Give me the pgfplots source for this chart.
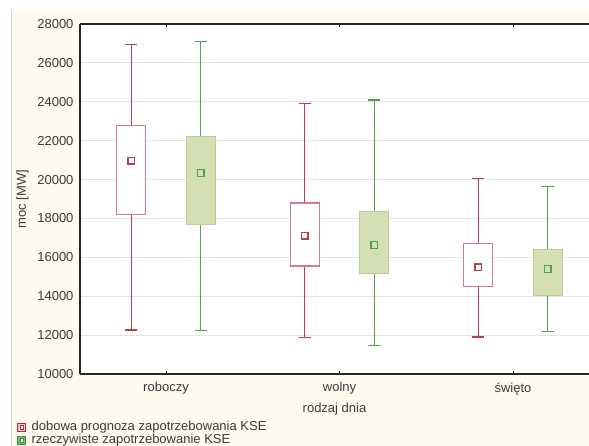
\documentclass[border=0pt]{standalone}
\usepackage{fontspec}
\setmainfont{Liberation Sans}
\usepackage{pgfplots}
\pgfplotsset{compat=1.18}
\usepgfplotslibrary{statistics}
\definecolor{cream}{HTML}{FEFAEE}
\definecolor{redwhisk}{HTML}{B5414F}
\definecolor{redbox}{HTML}{D17C88}
\definecolor{redmark}{HTML}{A8303C}
\definecolor{redfill}{HTML}{F2C6CC}
\definecolor{greenwhisk}{HTML}{4DA24D}
\definecolor{greenfill}{HTML}{D5DFB4}
\definecolor{greenline}{HTML}{BFCC98}
\definecolor{greenmark}{HTML}{3C963C}
\definecolor{gridc}{HTML}{E4E4E4}
\definecolor{txt}{HTML}{3A3A3A}
\pgfplotsset{
  rectleg/.style={legend image code/.code={\path[draw=none,fill=none] (0pt,0pt) -- (14pt,0pt); \draw[##1] (0pt,-4pt) rectangle (8pt,4pt); \draw[##1, fill=white, line width=0.6pt] (2.3pt,-1.7pt) rectangle (5.7pt,1.7pt);}},
  redbp/.style={forget plot, color=redwhisk, line width=1.3pt, mark=square, mark size=3.3pt,
    boxplot/every box/.style={draw=redbox, fill=white, line width=1.2pt},
    boxplot/every whisker/.style={draw=redwhisk, line width=1.3pt},
    boxplot/every median/.style={draw=none},
    boxplot/every average/.style={/tikz/mark=square, /tikz/mark size=3.3pt, color=redmark, line width=1.4pt, solid},
  },
  greenbp/.style={forget plot, color=greenwhisk, line width=1.3pt, mark=square, mark size=3.3pt,
    boxplot/every box/.style={draw=greenline, fill=greenfill, line width=1.0pt},
    boxplot/every whisker/.style={draw=greenwhisk, line width=1.3pt},
    boxplot/every median/.style={draw=none},
    boxplot/every average/.style={/tikz/mark=square, /tikz/mark size=3.3pt, color=greenmark, line width=1.4pt, solid},
  },
}
\begin{document}
\fontsize{13}{15}\selectfont
\begin{tikzpicture}
\fill[white] (0pt,0pt) rectangle (589pt,-446pt);
\fill[cream] (11pt,-10pt) rectangle (589pt,-446pt);
\draw[gray!35, line width=0.8pt] (11pt,-10pt) -- (11pt,-446pt);
\begin{axis}[
  at={(80pt,-374pt)}, anchor=south west,
  scale only axis, width=509pt, height=350pt,
  xmin=0.5043, xmax=3.438,
  ymin=10000, ymax=28000,
  axis x line*=box, axis y line*=left,
  axis line style={black!85, line width=1.4pt},
  axis background/.style={fill=white},
  xtick={1,2,3},
  xticklabels={roboczy,wolny,święto},
  ytick={10000,12000,...,28000},
  major tick length=3pt,
  xtick style={black, line width=1pt},
  ytick style={draw=none},
  ymajorgrids,
  grid style={gridc, line width=1.2pt},
  /pgf/number format/assume math mode=true,
  /pgf/number format/set thousands separator={},
  scaled y ticks=false,
  tick label style={text=txt},
  ylabel={moc [MW]},
  xlabel={rodzaj dnia},
  label style={text=txt},
  ylabel style={at={(axis description cs:-0.113,0.5)}, anchor=center},
  xlabel style={at={(axis description cs:0.5,-0.1007)}, anchor=center},
  yticklabel style={xshift=-2pt},
  xticklabel style={yshift=-4pt},
  legend style={at={(axis description cs:-0.1238,-0.1343)}, anchor=north west,
    draw=none, fill=none, inner sep=0pt, row sep=1pt,
    nodes={text=txt, inner sep=0pt, text height=9pt, text depth=3pt}, cells={anchor=west}},
  boxplot/draw direction=y,
]
\addplot[redbp, boxplot prepared={draw position=0.8, lower whisker=12260, lower quartile=18210, median=18210, upper quartile=22770, upper whisker=26950, average=20970, box extend=0.167, whisker extend=0.069}] coordinates {};
\addplot[greenbp, boxplot prepared={draw position=1.2, lower whisker=12220, lower quartile=17710, median=17710, upper quartile=22190, upper whisker=27110, average=20335, box extend=0.167, whisker extend=0.069}] coordinates {};
\addplot[redbp, boxplot prepared={draw position=1.8, lower whisker=11880, lower quartile=15550, median=15550, upper quartile=18790, upper whisker=23920, average=17110, box extend=0.167, whisker extend=0.069}] coordinates {};
\addplot[greenbp, boxplot prepared={draw position=2.2, lower whisker=11450, lower quartile=15170, median=15170, upper quartile=18380, upper whisker=24090, average=16630, box extend=0.167, whisker extend=0.069}] coordinates {};
\addplot[redbp, boxplot prepared={draw position=2.8, lower whisker=11900, lower quartile=14520, median=14520, upper quartile=16700, upper whisker=20060, average=15480, box extend=0.167, whisker extend=0.069}] coordinates {};
\addplot[greenbp, boxplot prepared={draw position=3.2, lower whisker=12170, lower quartile=14025, median=14025, upper quartile=16410, upper whisker=19650, average=15400, box extend=0.167, whisker extend=0.069}] coordinates {};
\addlegendimage{rectleg, draw=redmark, fill=redfill, line width=0.9pt}
\addlegendentry{dobowa prognoza zapotrzebowania KSE}
\addlegendimage{rectleg, draw=greenmark, fill=greenmark!70!white, line width=0.9pt}
\addlegendentry{rzeczywiste zapotrzebowanie KSE}
\end{axis}
\pgfresetboundingbox
\useasboundingbox (0pt,0pt) rectangle (589pt,-446pt);
\end{tikzpicture}
\end{document}
